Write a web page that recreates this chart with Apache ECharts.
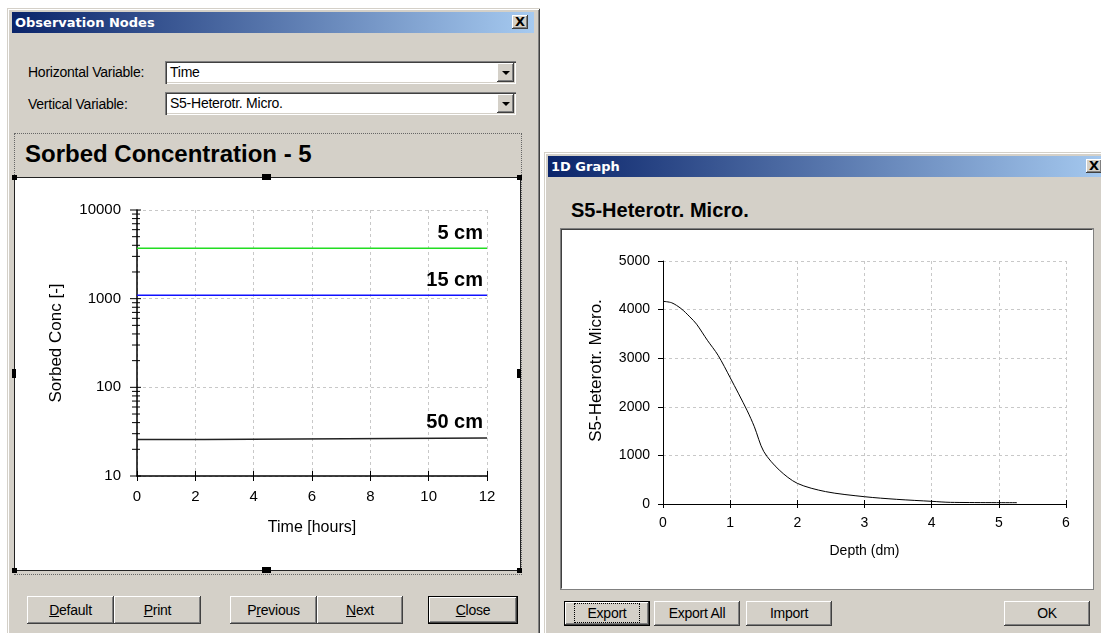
<!DOCTYPE html>
<html>
<head>
<meta charset="utf-8">
<script src="https://cdn.jsdelivr.net/npm/echarts@6.0.0/dist/echarts.min.js"></script>
<style>
  html, body { margin: 0; padding: 0; }
  body { width: 1101px; height: 633px; position: relative; overflow: hidden; background: #fff;
         font-family: 'Liberation Sans', Arial, sans-serif; }
  .win { position: absolute; background: #d4d0c8;
         box-shadow: inset 1px 1px #d4d0c8, inset -1px -1px #404040, inset 2px 2px #fff, inset -2px -2px #808080; }
  .bar { position: absolute; height: 21px; background: linear-gradient(to right, #0a246a, #a6caf0);
         color: #fff; font: bold 13px 'DejaVu Sans', sans-serif; line-height: 21px; padding-left: 3px; box-sizing: border-box; }
  .x { position: absolute; width: 16px; height: 14px; background: #d4d0c8;
       box-shadow: inset -1px -1px #404040, inset 1px 1px #fff, inset -2px -2px #808080;
       font: bold 13px 'DejaVu Sans', sans-serif; line-height: 14px; text-align: center; color: #000; }
  .lbl { position: absolute; font-size: 14px; letter-spacing: -0.25px; color: #000; }
  .combo { position: absolute; height: 23px; background: #fff; box-sizing: border-box;
           box-shadow: inset 1px 1px #808080, inset 2px 2px #404040, inset -1px -1px #fff, inset -2px -2px #d4d0c8;
           font-size: 14px; letter-spacing: -0.25px; line-height: 23px; padding-left: 5px; }
  .drop { position: absolute; right: 2px; top: 2px; width: 17px; height: 19px; background: #d4d0c8;
          box-shadow: inset -1px -1px #404040, inset 1px 1px #fff, inset -2px -2px #808080; }
  .drop:after { content: ''; position: absolute; left: 5px; top: 8px; border-left: 4px solid transparent;
                border-right: 4px solid transparent; border-top: 4px solid #000; }
  .btn { position: absolute; background: #d4d0c8; box-sizing: border-box; text-align: center;
         box-shadow: inset -1px -1px #404040, inset 1px 1px #fff, inset -2px -2px #808080, inset 2px 2px #d4d0c8;
         font-size: 14px; letter-spacing: -0.25px; color: #000; }
  .def { border: 1px solid #000; }
  .title { position: absolute; font-weight: bold; color: #000; white-space: nowrap; }
  .handle { position: absolute; background: #000; }
  .chart { position: absolute; }
</style>
</head>
<body>

<!-- left dialog -->
<div class="win" style="left:7px;top:8px;width:533px;height:640px;"></div>
<div class="bar" style="left:12px;top:12px;width:522px;">Observation Nodes</div>
<div class="x" style="left:512px;top:15px;">X</div>
<div class="lbl" style="left:28px;top:64px;">Horizontal Variable:</div>
<div class="lbl" style="left:28px;top:96px;">Vertical Variable:</div>
<div class="combo" style="left:165px;top:61px;width:351px;">Time<div class="drop"></div></div>
<div class="combo" style="left:165px;top:92px;width:351px;">S5-Heterotr. Micro.<div class="drop"></div></div>
<div style="position:absolute;left:14px;top:133px;width:506px;height:440px;border:1px dotted #666;"></div>
<div class="title" style="left:25px;top:140px;font-size:24px;">Sorbed Concentration - 5</div>
<div style="position:absolute;left:14px;top:177px;width:505px;height:392px;background:#fff;border:1px solid #222;"></div>
<div id="left" class="chart" style="left:15px;top:178px;width:504px;height:391px;"></div>
<div class="handle" style="left:12px;top:175px;width:5px;height:5px;"></div>
<div class="handle" style="left:262px;top:174px;width:9px;height:6px;"></div>
<div class="handle" style="left:517px;top:175px;width:5px;height:5px;"></div>
<div class="handle" style="left:12px;top:369px;width:4px;height:9px;"></div>
<div class="handle" style="left:517px;top:369px;width:4px;height:9px;"></div>
<div class="handle" style="left:12px;top:568px;width:5px;height:5px;"></div>
<div class="handle" style="left:262px;top:567px;width:9px;height:6px;"></div>
<div class="handle" style="left:517px;top:568px;width:5px;height:5px;"></div>
<div class="btn" style="left:27px;top:596px;width:87px;height:28px;line-height:28px;"><u>D</u>efault</div>
<div class="btn" style="left:114px;top:596px;width:87px;height:28px;line-height:28px;"><u>P</u>rint</div>
<div class="btn" style="left:230px;top:596px;width:87px;height:28px;line-height:28px;">P<u>r</u>evious</div>
<div class="btn" style="left:317px;top:596px;width:86px;height:28px;line-height:28px;"><u>N</u>ext</div>
<div class="btn def" style="left:428px;top:596px;width:90px;height:28px;line-height:26px;"><u>C</u>lose</div>

<!-- right dialog -->
<div class="win" style="left:544px;top:152px;width:570px;height:500px;"></div>
<div class="bar" style="left:548px;top:156px;width:560px;">1D Graph</div>
<div class="x" style="left:1086px;top:159px;">X</div>
<div class="title" style="left:571px;top:199px;font-size:20px;">S5-Heterotr. Micro.</div>
<div style="position:absolute;left:561px;top:229px;width:530px;height:358px;background:#fff;
     border-top:1px solid #404040;border-left:1px solid #404040;border-right:1px solid #fff;border-bottom:1px solid #fff;
     box-shadow:0 0 0 1px #808080;"></div>
<div id="right" class="chart" style="left:563px;top:231px;width:529px;height:357px;"></div>
<div class="btn def" style="left:564px;top:601px;width:86px;height:25px;line-height:23px;">
  <span style="outline:1px dotted #000;outline-offset:1px;padding:0 12px;">Export</span></div>
<div class="btn" style="left:654px;top:601px;width:86px;height:25px;line-height:25px;">Export All</div>
<div class="btn" style="left:746px;top:601px;width:86px;height:25px;line-height:25px;">Import</div>
<div class="btn" style="left:1004px;top:601px;width:86px;height:25px;line-height:25px;">OK</div>

<script>
// ---- left chart data (Sorbed Concentration - 5) ----
var timeHours = [0, 12];
var conc5cm = [3700, 3700];
var conc15cm = [1090, 1090];
var time50cm = [0, 2.3, 2.35, 12];
var conc50cm = [25.8, 25.8, 26.9, 26.9];
var majorDecades = [10, 100, 1000, 10000];
var minorLogTicks = [20, 30, 40, 50, 60, 70, 80, 90,
                     200, 300, 400, 500, 600, 700, 800, 900,
                     2000, 3000, 4000, 5000, 6000, 7000, 8000, 9000];

// ---- right chart data (1D Graph) ----
var depthDm = [0, 0.13, 0.27, 0.4, 0.5, 0.66, 0.82, 1.0, 1.25, 1.36, 1.5, 1.73, 2.0, 2.42, 3.0, 3.48, 4.0, 4.28, 5.27];
var heteroMicro = [4170, 4140, 4020, 3850, 3700, 3370, 3060, 2600, 1930, 1590, 1080, 700, 425, 255, 150, 96, 55, 34, 27];

var fontFam = "'Liberation Sans', Arial, sans-serif";
var gridDash = { show: true, lineStyle: { color: '#c8c8c8', type: [3, 3], width: 1 } };
var plain = function (v) { return String(v); };

function pairs(xs, ys) {
    var out = [];
    for (var i = 0; i < xs.length; i++) out.push([xs[i], ys[i]]);
    return out;
}

// last point carries the depth label
function labelled(xs, ys, text) {
    var d = pairs(xs, ys);
    var last = d.pop();
    d.push({
        value: last,
        label: {
            show: true, position: 'top', align: 'right', offset: [-4, 0],
            formatter: text, fontFamily: fontFam, fontWeight: 'bold', fontSize: 20, color: '#000'
        }
    });
    return d;
}

function depthLine(xs, ys, text, color) {
    return {
        type: 'line', data: labelled(xs, ys, text),
        showSymbol: true, symbol: 'circle', symbolSize: 0,
        lineStyle: { color: color, width: 1.5 }, itemStyle: { color: color }
    };
}

function tickSeries(values, left, right) {
    return {
        type: 'custom', silent: true, clip: false,
        data: values.map(function (v) { return [0, v]; }),
        renderItem: function (params, api) {
            var p = api.coord([0, api.value(1)]);
            return {
                type: 'line',
                shape: { x1: p[0] - left, y1: p[1], x2: p[0] + right, y2: p[1] },
                style: { stroke: '#000', lineWidth: 1 }
            };
        }
    };
}

var leftChart = echarts.init(document.getElementById('left'));
leftChart.setOption({
    animation: false,
    grid: { left: 122, top: 32, right: 32, bottom: 93 },
    xAxis: [{
        type: 'value', min: 0, max: 12, interval: 2,
        name: 'Time [hours]', nameLocation: 'middle', nameGap: 44,
        nameTextStyle: { fontFamily: fontFam, fontSize: 16, color: '#000' },
        axisLine: { lineStyle: { color: '#000', width: 1.5 } },
        axisTick: { length: 5, lineStyle: { color: '#000' } },
        axisLabel: { margin: 13, fontFamily: fontFam, fontSize: 15, color: '#000', formatter: plain },
        splitLine: gridDash
    }, {
        type: 'value', min: 0, max: 12, interval: 2, position: 'bottom',
        axisLine: { show: false },
        axisTick: { inside: true, length: 5, lineStyle: { color: '#000' } },
        axisLabel: { show: false }, splitLine: { show: false }
    }],
    yAxis: {
        type: 'log', logBase: 10, min: 10, max: 10000,
        name: 'Sorbed Conc [-]', nameLocation: 'middle', nameGap: 72,
        nameTextStyle: { fontFamily: fontFam, fontSize: 17, color: '#000' },
        axisLine: { lineStyle: { color: '#000', width: 1.5 } },
        axisTick: { show: false },
        axisLabel: { margin: 16, fontFamily: fontFam, fontSize: 15, color: '#000', formatter: plain },
        splitLine: gridDash
    },
    series: [
        depthLine(timeHours, conc5cm, '5 cm', '#22dd22'),
        depthLine(timeHours, conc15cm, '15 cm', '#1010ff'),
        depthLine(time50cm, conc50cm, '50 cm', '#222'),
        tickSeries(majorDecades, 7, 4),
        tickSeries(minorLogTicks, 5, 3)
    ]
});

var rightChart = echarts.init(document.getElementById('right'));
rightChart.setOption({
    animation: false,
    grid: { left: 100, top: 30, right: 26, bottom: 84 },
    xAxis: [{
        type: 'value', min: 0, max: 6, interval: 1,
        name: 'Depth (dm)', nameLocation: 'middle', nameGap: 40,
        nameTextStyle: { fontFamily: fontFam, fontSize: 14, color: '#000' },
        axisLine: { lineStyle: { color: '#000', width: 1 } },
        axisTick: { length: 4, lineStyle: { color: '#000' } },
        axisLabel: { margin: 12, fontFamily: fontFam, fontSize: 14, color: '#000', formatter: plain },
        splitLine: gridDash
    }, {
        type: 'value', min: 0, max: 6, interval: 1, position: 'bottom',
        axisLine: { show: false },
        axisTick: { inside: true, length: 4, lineStyle: { color: '#000' } },
        axisLabel: { show: false }, splitLine: { show: false }
    }],
    yAxis: {
        type: 'value', min: 0, max: 5000, interval: 1000,
        name: 'S5-Heterotr. Micro.', nameLocation: 'middle', nameGap: 58,
        nameTextStyle: { fontFamily: fontFam, fontSize: 17, color: '#000', padding: [0, 0, 0, 24] },
        axisLine: { lineStyle: { color: '#000', width: 1 } },
        axisTick: { length: 5, lineStyle: { color: '#000' } },
        axisLabel: { margin: 13, fontFamily: fontFam, fontSize: 14, color: '#000', formatter: plain },
        splitLine: gridDash
    },
    series: [{
        type: 'line', data: pairs(depthDm, heteroMicro), showSymbol: false, smooth: 0.3,
        lineStyle: { color: '#000', width: 1 }
    }]
});
</script>
</body>
</html>
